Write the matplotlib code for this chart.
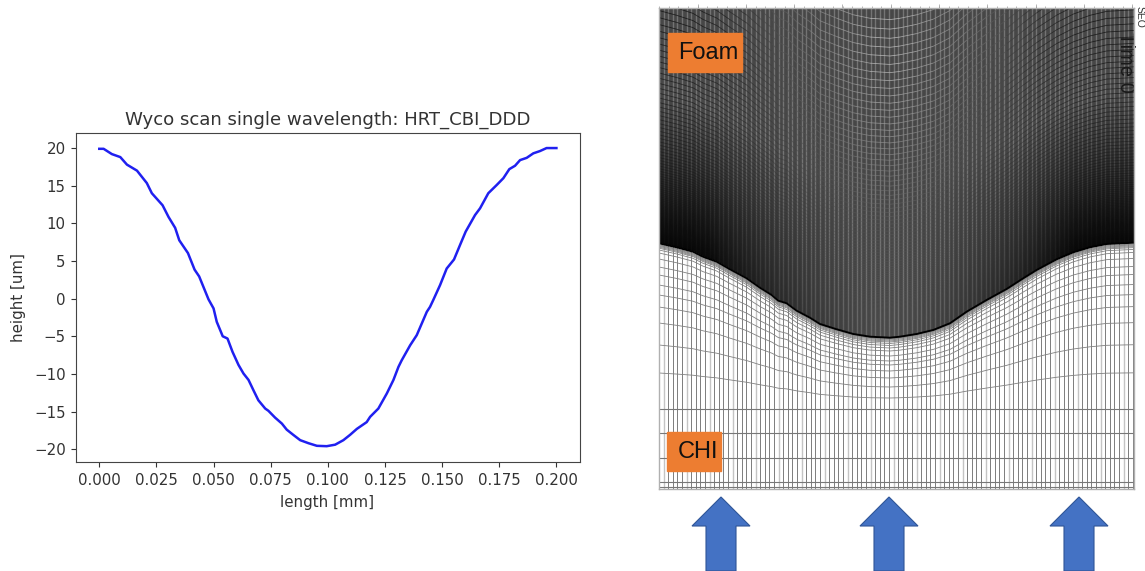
import numpy as np
import matplotlib
matplotlib.use('agg')
import matplotlib.pyplot as plt
from matplotlib.collections import LineCollection
from matplotlib.patches import Rectangle, Polygon

# Wyco scan
scan_length = [0.0, 0.0019, 0.0055, 0.0092, 0.0121, 0.0165, 0.0208, 0.023, 0.0277, 0.0303, 0.0332, 0.035,
               0.0388, 0.0417, 0.0437, 0.0478, 0.05, 0.0514, 0.0532, 0.054, 0.0561, 0.0583, 0.0609, 0.0631,
               0.0653, 0.0675, 0.0696, 0.0726, 0.074, 0.0769, 0.0799, 0.082, 0.0849, 0.0879, 0.0915, 0.0952,
               0.0995, 0.1032, 0.1068, 0.1097, 0.1127, 0.117, 0.1185, 0.1221, 0.1258, 0.1287, 0.1309, 0.1323,
               0.136, 0.1389, 0.1411, 0.1433, 0.1447, 0.1461, 0.1491, 0.152, 0.1552, 0.1578, 0.1603, 0.1644,
               0.1666, 0.1702, 0.1739, 0.1768, 0.1794, 0.1819, 0.1841, 0.187, 0.1899, 0.1928, 0.1957, 0.2]
scan_height = [19.9, 19.9, 19.2, 18.8, 17.8, 17.0, 15.35, 14.0, 12.4, 10.85, 9.4, 7.75,
               6.05, 3.85, 2.95, -0.1, -1.3, -3.08, -4.4, -5.0, -5.3, -7.07, -8.8, -9.95,
               -10.8, -12.2, -13.5, -14.6, -14.9, -15.8, -16.6, -17.4, -18.1, -18.8, -19.2, -19.55,
               -19.6, -19.4, -18.8, -18.1, -17.3, -16.4, -15.7, -14.6, -12.6, -10.8, -9.06, -8.2,
               -6.2, -4.85, -3.3, -1.75, -1.1, -0.2, 1.8, 4.0, 5.2, 7.1, 8.9, 11.1,
               12.0, 14.0, 15.1, 16.0, 17.2, 17.65, 18.4, 18.7, 19.3, 19.6, 20.0, 20.0]

# Foam / CHI interface of the mesh, in picture pixels
iface_x = [659, 676.7, 693, 703, 716.7, 730, 746.7, 760, 771.7, 778.3, 786.7, 796.7, 810, 820, 836.7, 853.3,
           870, 890, 900, 916.7, 933.3, 950, 966.7, 986.7, 1006.7, 1023.3, 1036.7, 1056.7, 1073.3, 1090, 1106.7, 1134]
iface_y = [243.3, 247.3, 251.7, 256.7, 261.7, 269.3, 278.3, 287.7, 295, 300.7, 303.3, 310.7, 317.7, 324, 329.3, 334,
           336.7, 337.7, 336.7, 334, 330, 323.3, 311.7, 300, 289, 278.3, 270, 259.3, 252.3, 247.3, 244, 242.7]

# CHI mesh lines: y at the panel edge and y under the centre of the dip
chi_edge = [244.8, 245.5, 246.3, 247.2, 248.2, 250, 253, 259, 267, 275, 285, 295, 307, 323, 345, 373]
chi_centre = [338.5, 339.2, 340, 341, 342, 343.5, 345.5, 348, 351, 356, 361, 365, 371, 378, 387, 398]
chi_flat = [409, 433, 458, 482, 487]

arrow_x = [721, 889, 1079]

fig = plt.figure(figsize=(11.45, 5.71), dpi=100)

# left panel
ax = fig.add_axes([75.5/1145, 1-462/571, 504/1145, 329/571])
ax.plot(scan_length, scan_height, color='#2020f0', lw=1.8)
ax.set_xlim(-0.0104, 0.2101)
ax.set_ylim(-21.7, 22)
ax.set_xticks([0.0, 0.025, 0.05, 0.075, 0.1, 0.125, 0.15, 0.175, 0.2])
ax.set_xticklabels(['0.000', '0.025', '0.050', '0.075', '0.100', '0.125', '0.150', '0.175', '0.200'])
ax.tick_params(labelsize=10.8, colors='#333333')
ax.tick_params(axis='x', pad=4.5)
ax.set_title('Wyco scan single wavelength: HRT_CBI_DDD', fontsize=13.1, color='#333333', pad=6)
ax.set_xlabel('length [mm]', fontsize=10.8, color='#333333', labelpad=5)
ax.set_ylabel('height [um]', fontsize=10.8, color='#333333', labelpad=5.5)
for s in ax.spines.values():
    s.set_color('#444444')

# right panel, axes run in picture pixels
mesh = fig.add_axes([659/1145, 1-489/571, 475/1145, 481/571])
mesh.set_xlim(659, 1134)
mesh.set_ylim(489, 8)

ix = np.array(iface_x)
iy = np.array(iface_y)
col_x = np.arange(659, 1134, 4.6)

# foam
mesh.add_patch(Rectangle((659, 8), 475, 340, color='#474747', zorder=1))
mesh.vlines(col_x, 8, 345, color='#747474', lw=1.0, zorder=2)

# the mesh goes almost black towards the sides above the interface
gx, gy = np.meshgrid(np.arange(659, 1134, 2.0), np.arange(8, 346, 2.0))
off = np.abs(gx - 889)/245
depth = np.interp(gx, ix, iy) - gy
shade = np.zeros(gx.shape + (4,))
shade[..., 3] = 0.92*np.clip(off*1.35, 0, 1)**1.5*np.clip(1 - depth/150, 0, 1)
mesh.imshow(shade, extent=(659, 1134, 346, 8), aspect='auto', zorder=3, interpolation='bilinear')
mesh.set_xlim(659, 1134)
mesh.set_ylim(489, 8)

dist = np.cumsum(np.geomspace(0.4, 9.5, 110))
iy_c = iy.max()
mid = 0.5*(ix[:-1] + ix[1:])
for d in dist:
    amp = 1 + 0.3*d/dist[-1]
    y = iy_c - d + amp*(iy - iy_c)
    pts = np.column_stack([ix, y])
    segs = np.stack([pts[:-1], pts[1:]], axis=1)
    o = np.abs(mid - 889)/245
    light = np.clip(1 - o*1.5, 0, 1)*np.clip((d - 110)/170, 0, 1)
    base = 0.05 + 0.32*np.clip(1 - o*1.2, 0, 1)
    a = 0.15 + 0.6*np.clip(d/200, 0, 1)
    cols = [(b + 0.45*l, b + 0.45*l, b + 0.45*l, a) for b, l in zip(base, light)]
    mesh.add_collection(LineCollection(segs, colors=cols, linewidths=0.6, zorder=4))

# CHI
mesh.fill_between(ix, iy, 489, color='white', zorder=5)
col_top = np.interp(col_x, ix, iy)
mesh.vlines(col_x, col_top, 489, color='#808080', lw=0.72, zorder=6)
mesh.vlines(col_x[1::5], col_top[1::5], 489, color='#c4c4c4', lw=1.0, zorder=6)

edge_y = iy[0]
centre_y = iy.max()
w = (iy - edge_y)/(centre_y - edge_y)
for e, c in zip(chi_edge, chi_centre):
    mesh.plot(ix, e + w*(c - e), color='#808080', lw=0.6, zorder=7)
mesh.hlines(chi_flat, 659, 1134, color='#777777', lw=0.8, zorder=7)
mesh.plot(ix, iy, color='black', lw=1.4, zorder=8)

mesh.set_xticks(np.arange(697.5, 1134, 48.3))
mesh.set_xticks(np.arange(659, 1134, 9.66), minor=True)
mesh.set_yticks([])
mesh.xaxis.tick_top()
mesh.tick_params(axis='x', which='major', length=3, width=0.5, color='#999999', labeltop=False)
mesh.tick_params(axis='x', which='minor', length=1.5, width=0.5, color='#999999')
for s in mesh.spines.values():
    s.set_color('#b0b0b0')
    s.set_linewidth(1.0)
    s.set_zorder(9)

# boxes and arrows on top of the mesh
mesh.add_patch(Rectangle((668, 33), 74, 39, color='#ed7d31', zorder=10))
mesh.text(708, 53, 'Foam', family='Liberation Sans', fontsize=17, color='#111111', ha='center', va='center', zorder=11)
mesh.add_patch(Rectangle((667, 432), 54, 39, color='#ed7d31', zorder=10))
mesh.text(698, 452, 'CHI', family='Liberation Sans', fontsize=17, color='#111111', ha='center', va='center', zorder=11)
mesh.text(1125, 62, 'Time 0', family='Liberation Sans', fontsize=14.5, color='#1a1a1a', rotation=-90,
          ha='center', va='center', zorder=9)
mesh.text(1135, 6, 'SEO', family='Liberation Sans', fontsize=7.5, color='#333333', rotation=-90,
          ha='left', va='top', clip_on=False, zorder=9)

for x in arrow_x:
    outline = [(x, 497), (x+29, 526), (x+15, 526), (x+15, 571), (x-15, 571), (x-15, 526), (x-29, 526)]
    mesh.add_patch(Polygon(outline, closed=True, facecolor='#4472c4', edgecolor='#2f5597', lw=0.8,
                           clip_on=False, zorder=10))

fig.savefig('out.png', dpi=100)
